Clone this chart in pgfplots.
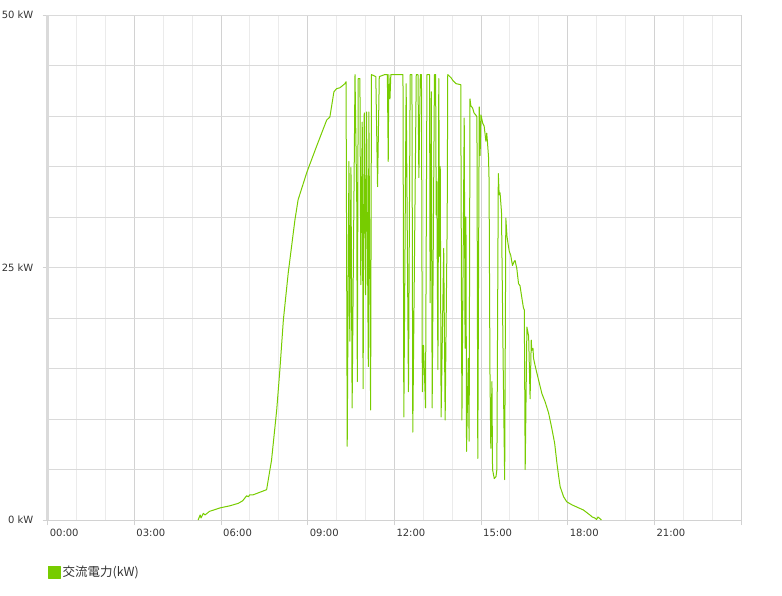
\documentclass[border=0pt]{standalone}
\usepackage{fontspec}
\setmainfont{DejaVu Sans}
\newfontfamily\cjk{Noto Sans CJK JP}
\usepackage{pgfplots}
\pgfplotsset{compat=1.18}
\definecolor{pvgreen}{HTML}{77CC00}
\definecolor{majgrid}{HTML}{D2D2D2}
\definecolor{mingrid}{HTML}{EBEBEB}
\definecolor{hgrid}{HTML}{DADADA}
\definecolor{ybar}{HTML}{DADADA}
\definecolor{txt}{HTML}{333333}
\begin{document}
\begin{tikzpicture}
\path[use as bounding box] (-47.6bp,-76bp) rectangle (734.4bp,520bp);
\begin{axis}[
  at={(0,0)}, anchor=south west,
  scale only axis, width=693.4bp, height=505bp,
  xmin=0, xmax=24, ymin=0, ymax=50,
  axis lines*=left,
  x axis line style={draw=majgrid, line width=0.8bp, -},
  y axis line style={draw=ybar, line width=3bp, -},
  xtick={0,3,...,24},
  xticklabels={00:00,03:00,06:00,09:00,12:00,15:00,18:00,21:00,{}},
  minor xtick={1,2,4,5,7,8,10,11,13,14,16,17,19,20,22,23},
  ytick={0,25,50},
  minor ytick={5,10,15,20,30,35,40,45},
  yticklabel={\pgfmathprintnumber{\tick} kW},
  /pgf/number format/assume math mode=true,
  tick align=outside,
  major tick length=5bp,
  minor tick length=0pt,
  every tick/.style={draw=majgrid, line width=0.8bp},
  xmajorgrids, ymajorgrids, xminorgrids, yminorgrids,
  major x grid style={draw=majgrid, line width=0.8bp},
  minor x grid style={draw=mingrid, line width=0.8bp},
  major y grid style={draw=hgrid, line width=0.8bp},
  minor y grid style={draw=hgrid, line width=0.8bp},
  tick label style={font=\fontsize{10bp}{12bp}\selectfont, text=txt},
  xticklabel style={anchor=north west, inner sep=0pt, xshift=2bp, yshift=-4bp},
  yticklabel style={anchor=east, inner sep=0pt, xshift=-9bp},
  legend style={at={(axis description cs:0,-0.103)}, anchor=west, draw=none, fill=none,
    inner sep=0pt, outer sep=0pt, font=\cjk\fontsize{12.5bp}{14bp}\selectfont, text=txt},
  legend image code/.code={\fill[pvgreen] (0bp,-6bp) rectangle (12bp,6bp);},
  clip=true,
]
\addplot[pvgreen, line width=1bp, line join=round] coordinates {
(5.21,0.0)(5.28,0.5)(5.31,0.2)(5.39,0.66)(5.45,0.5)(5.60,0.85)(5.97,1.2)(6.30,1.4)
(6.60,1.65)(6.75,1.9)(6.89,2.4)(6.95,2.3)(7.00,2.5)(7.12,2.5)(7.35,2.75)(7.58,3.0)
(7.75,5.9)(7.93,10.9)(8.04,14.9)(8.16,19.8)(8.33,24.5)(8.56,29.7)(8.67,31.7)(8.97,34.4)
(9.31,37.0)(9.66,39.6)(9.77,39.9)(9.91,42.4)(10.00,42.7)(10.12,42.8)(10.29,43.2)(10.33,43.4)
(10.35,26.6)(10.37,7.3)(10.43,35.5)(10.46,17.7)(10.50,34.9)(10.54,11.1)(10.64,44.1)(10.70,31.7)
(10.72,13.7)(10.75,43.7)(10.81,43.7)(10.84,23.3)(10.89,39.4)(10.92,13.0)(10.96,40.3)(11.01,22.3)
(11.04,40.4)(11.10,15.2)(11.12,40.4)(11.18,10.9)(11.21,44.1)(11.36,43.9)(11.42,33.0)(11.48,43.9)
(11.67,44.1)(11.76,44.1)(11.79,35.5)(11.81,44.1)(11.85,41.7)(11.88,44.1)(12.19,44.1)(12.30,44.1)
(12.33,10.2)(12.41,43.2)(12.49,12.7)(12.55,44.1)(12.61,44.1)(12.64,8.7)(12.76,44.1)(12.82,44.1)
(12.85,33.9)(12.90,44.1)(12.94,44.1)(12.97,12.7)(13.01,17.3)(13.05,13.9)(13.08,11.1)(13.13,44.1)
(13.22,44.1)(13.24,21.5)(13.28,42.4)(13.31,11.1)(13.39,44.1)(13.43,44.1)(13.45,30.2)(13.47,33.5)
(13.51,14.9)(13.54,43.7)(13.57,26.1)(13.59,35.0)(13.62,10.2)(13.71,26.9)(13.76,9.9)(13.83,29.5)
(13.85,44.1)(13.96,43.8)(14.03,43.5)(14.14,43.2)(14.30,43.1)(14.34,9.9)(14.42,39.8)(14.45,17.0)
(14.48,30.0)(14.50,6.8)(14.56,16.0)(14.59,7.8)(14.62,41.7)(14.65,41.0)(14.71,40.8)(14.76,40.3)
(14.82,40.1)(14.86,39.9)(14.89,6.1)(14.94,40.9)(14.97,36.1)(15.00,40.1)(15.06,39.3)(15.11,39.0)
(15.17,37.5)(15.20,38.3)(15.23,37.2)(15.26,36.0)(15.28,33.7)(15.31,15.0)(15.34,7.1)(15.38,13.7)
(15.40,5.0)(15.46,4.1)(15.52,4.3)(15.55,5.0)(15.60,34.3)(15.63,32.2)(15.66,32.4)(15.71,30.5)
(15.77,15.0)(15.82,4.0)(15.86,29.9)(15.90,28.1)(15.94,27.3)(15.98,26.6)(16.03,26.2)(16.09,25.2)
(16.15,25.6)(16.18,25.7)(16.24,24.9)(16.30,23.4)(16.35,23.2)(16.42,21.9)(16.47,21.0)(16.50,20.8)
(16.53,5.0)(16.59,19.1)(16.65,18.2)(16.70,12.0)(16.74,17.8)(16.76,16.8)(16.80,17.0)(16.82,16.0)
(16.88,15.2)(16.99,13.9)(17.11,12.5)(17.22,11.7)(17.34,10.6)(17.45,9.1)(17.55,7.6)(17.63,5.6)
(17.69,4.3)(17.74,3.3)(17.86,2.3)(17.97,1.8)(18.15,1.5)(18.38,1.2)(18.54,1.0)(18.77,0.5)
(18.85,0.3)(18.94,0.2)(19.00,0.05)(19.05,0.3)(19.17,0.0)
};
\addlegendentry{交流電力(kW)}
\end{axis}
\end{tikzpicture}
\end{document}
